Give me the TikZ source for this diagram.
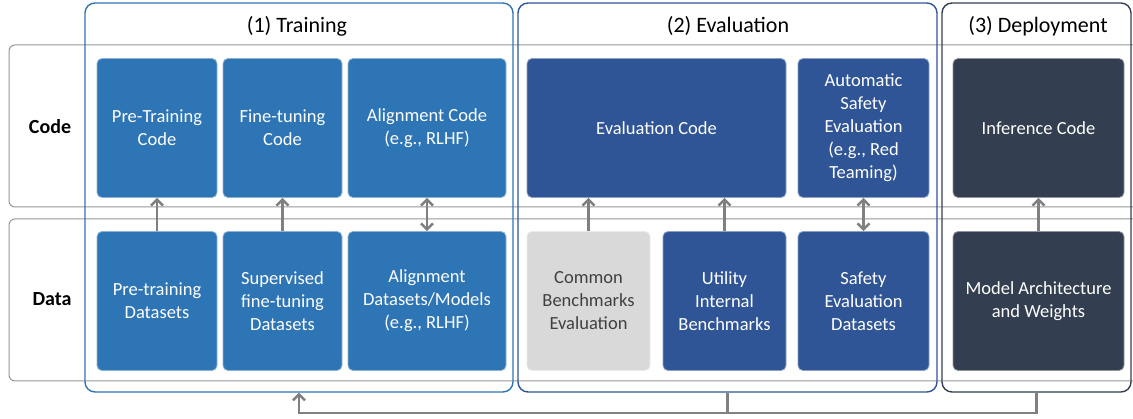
\documentclass[tikz,border=0pt]{standalone}
\usepackage{fontspec}
\setmainfont{Carlito}
\usetikzlibrary{arrows.meta}

\definecolor{trainblue}{RGB}{46,117,182}
\definecolor{evalblue}{RGB}{47,85,151}
\definecolor{deployslate}{RGB}{51,63,80}
\definecolor{benchgray}{RGB}{217,217,217}
\definecolor{linegray}{RGB}{128,128,128}
\definecolor{rowgray}{RGB}{150,150,150}

\tikzset{
  stage/.style={rectangle, rounded corners=5pt, draw=#1!55!white, line width=0.8pt,
    fill=#1, text=white, align=center, inner sep=0pt, minimum height=139pt,
    font=\fontsize{18.5}{23}\selectfont},
  group/.style={rectangle, rounded corners=10pt, draw=#1, line width=1.4pt,
    inner sep=0pt, minimum height=389pt},
  rowbox/.style={rectangle, rounded corners=6pt, draw=rowgray, line width=1pt,
    inner sep=0pt, minimum height=162pt},
  grouptitle/.style={font=\fontsize{22}{26}\selectfont},
  rowlabel/.style={font=\fontsize{20}{24}\selectfont\bfseries},
  flow/.style={draw=linegray, line width=2.4pt, -{Straight Barb[length=6pt,width=12pt]}},
  bothflow/.style={draw=linegray, line width=2.4pt,
    {Straight Barb[length=6pt,width=12pt]}-{Straight Barb[length=6pt,width=12pt]}},
}

\begin{document}
\begin{tikzpicture}[x=1pt, y=-1pt]
    \useasboundingbox (0,0) rectangle (1133,419);

    % rows
    \node[rowbox, minimum width=1150pt] (coderow) at (584,126) {};
    \node[rowbox, minimum width=1150pt] (datarow) at (584,300) {};
    \node[rowlabel] (codelabel) at (50,127) {Code};
    \node[rowlabel] (datalabel) at (52,299) {Data};

    % stage groups
    \node[group=trainblue, minimum width=428pt] (training) at (299,197.5) {};
    \node[group=evalblue, minimum width=419pt] (evaluation) at (727.5,197.5) {};
    \node[group=deployslate, minimum width=189pt] (deployment) at (1036.5,197.5) {};
    \node[grouptitle] (traintitle) at (297,26) {(1) Training};
    \node[grouptitle] (evaltitle) at (728,26) {(2) Evaluation};
    \node[grouptitle] (deploytitle) at (1038,26) {(3) Deployment};

    % code row
    \node[stage=trainblue, minimum width=120pt] (ptcode) at (157,128) {Pre-Training\\Code};
    \node[stage=trainblue, minimum width=119pt] (ftcode) at (282.5,128) {Fine-tuning\\Code};
    \node[stage=trainblue, minimum width=158pt] (alcode) at (427,128) {Alignment Code\\(e.g., RLHF)};
    \node[stage=evalblue, minimum width=259pt] (evcode) at (656.5,128) {Evaluation Code};
    \node[stage=evalblue, minimum width=131pt] (sfcode) at (863.5,128) {Automatic\\Safety\\Evaluation\\(e.g., Red\\Teaming)};
    \node[stage=deployslate, minimum width=171pt] (infcode) at (1038.5,128) {Inference Code};

    % data row
    \node[stage=trainblue, minimum width=120pt] (ptdata) at (157,301) {Pre-training\\Datasets};
    \node[stage=trainblue, minimum width=119pt] (ftdata) at (282.5,301) {Supervised\\fine-tuning\\Datasets};
    \node[stage=trainblue, minimum width=158pt] (aldata) at (427,301) {Alignment\\Datasets/Models\\(e.g., RLHF)};
    \node[stage=benchgray, minimum width=123pt, text=black!75] (cbdata) at (588.5,301) {Common\\Benchmarks\\Evaluation};
    \node[stage=evalblue, minimum width=123pt] (utdata) at (724.5,301) {Utility\\Internal\\Benchmarks};
    \node[stage=evalblue, minimum width=131pt] (sfdata) at (863.5,301) {Safety\\Evaluation\\Datasets};
    \node[stage=deployslate, minimum width=171pt] (mwdata) at (1038.5,301) {Model Architecture\\and Weights};

    % data -> code
    \draw[flow] (ptdata) -- (ptcode);
    \draw[flow] (ftdata) -- (ftcode);
    \draw[bothflow] (aldata) -- (alcode);
    \draw[flow] (cbdata.north) -- (cbdata.north |- evcode.south);
    \draw[flow] (utdata.north) -- (utdata.north |- evcode.south);
    \draw[bothflow] (sfdata) -- (sfcode);
    \draw[flow] (mwdata) -- (infcode);

    % feedback to training
    \coordinate (fb) at (299,413);
    \draw[draw=linegray, line width=2.4pt] (evaluation.south) -- (evaluation.south |- fb);
    \draw[flow] (deployment.south) |- (fb) -- (training.south);
\end{tikzpicture}
\end{document}
